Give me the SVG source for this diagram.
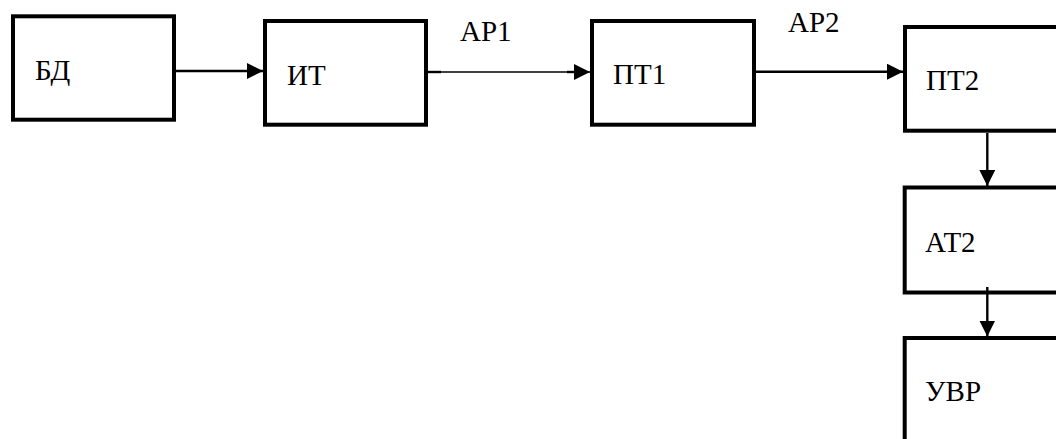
<svg xmlns="http://www.w3.org/2000/svg" width="1056" height="439" viewBox="0 0 1056 439">
  <style>
    .box { fill: #fff; stroke: #000; stroke-width: 4; }
    .lbl { font-family: "Liberation Serif", "Times New Roman", serif; font-size: 29px; fill: #000; }
    .wire { fill: none; stroke: #000; stroke-width: 2.4; }
    .thin { fill: none; stroke: #000; stroke-width: 1.5; }
  </style>
  <defs>
    <marker id="arrow" markerUnits="userSpaceOnUse" markerWidth="17" markerHeight="17" refX="16" refY="8" orient="auto">
      <path d="M0,0 L16,8 L0,16 Z" fill="#000"/>
    </marker>
  </defs>

  <rect width="1056" height="439" fill="#fff"/>

  <!-- blocks (the right-hand column runs past the page edge) -->
  <g id="node-bd">
    <rect class="box" x="13" y="16.3" width="161" height="103.4"/>
    <text class="lbl" x="35" y="80">БД</text>
  </g>
  <g id="node-it">
    <rect class="box" x="265" y="21" width="161" height="103.7"/>
    <text class="lbl" x="287" y="84.5">ИТ</text>
  </g>
  <g id="node-pt1">
    <rect class="box" x="592" y="21" width="162" height="103.7"/>
    <text class="lbl" x="613" y="84">ПТ1</text>
  </g>
  <g id="node-pt2">
    <rect class="box" x="905" y="27" width="200" height="103.7"/>
    <text class="lbl" x="926" y="90">ПТ2</text>
  </g>
  <g id="node-at2">
    <rect class="box" x="904.7" y="187.5" width="200" height="105"/>
    <text class="lbl" x="925" y="251.5">АТ2</text>
  </g>
  <g id="node-uvr">
    <rect class="box" x="904.7" y="338" width="200" height="160"/>
    <text class="lbl" x="925" y="401">УВР</text>
  </g>

  <!-- connectors -->
  <g id="connectors">
    <line class="wire" x1="176" y1="71" x2="263" y2="71" marker-end="url(#arrow)"/>
    <line class="thin" x1="428" y1="72" x2="590" y2="72" marker-end="url(#arrow)"/>
    <line class="wire" x1="428" y1="72" x2="441" y2="72"/>
    <line class="wire" x1="567" y1="72" x2="580" y2="72"/>
    <text class="lbl" x="460" y="40.5">АР1</text>
    <line class="wire" x1="756" y1="71.7" x2="903" y2="71.7" marker-end="url(#arrow)"/>
    <text class="lbl" x="788" y="32">АР2</text>
    <line class="wire" x1="987.3" y1="133" x2="987.3" y2="186" marker-end="url(#arrow)"/>
    <line class="wire" x1="987.3" y1="287" x2="987.3" y2="336.5" marker-end="url(#arrow)"/>
  </g>
</svg>
